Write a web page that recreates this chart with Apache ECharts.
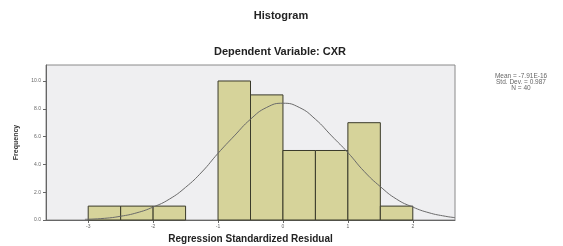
<!DOCTYPE html>
<html>
<head>
<meta charset="utf-8">
<script src="https://cdn.jsdelivr.net/npm/echarts@6/dist/echarts.min.js"></script>
<style>
  html, body { margin: 0; padding: 0; background: #fff; }
  #chart { width: 563px; height: 246px; }
</style>
</head>
<body>
<div id="chart"></div>
<script>
// bins of width 0.5, left edges
var binStarts = [-3, -2.5, -2, -1.5, -1, -0.5, 0, 0.5, 1, 1.5]
var binCounts = [1, 1, 1, 0, 10, 9, 5, 5, 7, 1]
var binWidth = 0.5

// normal curve
var curveX = [-3.05, -2.75, -2.5, -2.25, -2, -1.75, -1.5, -1.25, -1, -0.75, -0.5, -0.25, 0, 0.25, 0.5, 0.75, 1, 1.25, 1.5, 1.75, 2, 2.25, 2.5, 2.65]
var curveY = [0.05, 0.12, 0.27, 0.52, 0.93, 1.5, 2.35, 3.45, 4.8, 6.05, 7.25, 8.1, 8.4, 8.1, 7.25, 6.05, 4.85, 3.5, 2.4, 1.5, 0.93, 0.52, 0.27, 0.17]

var xTicks = [-3, -2, -1, 0, 1, 2]
var yTicks = [0, 2, 4, 6, 8, 10]

var statsLines = ['Mean = -7.91E-16', 'Std. Dev. = 0.987', 'N = 40']

var chart = echarts.init(document.getElementById('chart'))

var histData = binStarts.map(function (s, i) { return [s, s + binWidth, binCounts[i]] })
var curveData = curveX.map(function (x, i) { return [x, curveY[i]] })

var option = {
  animation: false,
  title: [
    {
      text: 'Histogram',
      left: 276, top: 5, textAlign: 'center',
      textStyle: { fontFamily: 'Liberation Sans', fontSize: 11, fontWeight: 'bold', color: '#222' }
    },
    {
      text: 'Dependent Variable: CXR',
      left: 275, top: 41, textAlign: 'center',
      textStyle: { fontFamily: 'Liberation Sans', fontSize: 11, fontWeight: 'bold', color: '#222' }
    }
  ],
  grid: {
    left: 46, top: 65, right: 108, bottom: 26,
    outerBoundsMode: 'none',
    show: true,
    backgroundColor: '#efeff1',
    borderColor: '#8a8a8a',
    borderWidth: 1
  },
  xAxis: {
    type: 'value',
    min: -3.65,
    max: 2.65,
    name: 'Regression Standardized Residual',
    nameLocation: 'middle',
    nameGap: 14,
    nameTextStyle: { fontFamily: 'Liberation Sans', fontSize: 10, fontWeight: 'bold', color: '#222' },
    splitLine: { show: false },
    axisLine: { onZero: false, lineStyle: { color: '#666' } },
    axisTick: { customValues: xTicks, length: 3, lineStyle: { color: '#666' } },
    axisLabel: {
      customValues: xTicks,
      fontSize: 5, color: '#666', margin: 4,
      formatter: function (v) { return v.toFixed(0) }
    }
  },
  yAxis: {
    type: 'value',
    min: 0,
    max: 11.15,
    name: 'Frequency',
    nameLocation: 'middle',
    nameGap: 26,
    nameTextStyle: { fontFamily: 'Liberation Sans', fontSize: 7, fontWeight: 'bold', color: '#333' },
    splitLine: { show: false },
    axisLine: { show: true, onZero: false, lineStyle: { color: '#666' } },
    axisTick: { customValues: yTicks, length: 3, lineStyle: { color: '#666' } },
    axisLabel: {
      customValues: yTicks,
      fontSize: 5, color: '#666', margin: 5,
      formatter: function (v) { return v.toFixed(1) }
    }
  },
  series: [
    {
      type: 'custom',
      data: histData,
      z: 2,
      renderItem: function (params, api) {
        var p0 = api.coord([api.value(0), api.value(2)])
        var p1 = api.coord([api.value(1), 0])
        if (api.value(2) <= 0) return null
        return {
          type: 'rect',
          shape: { x: p0[0], y: p0[1], width: p1[0] - p0[0], height: p1[1] - p0[1] },
          style: { fill: '#d6d39a', stroke: '#3a3a2a', lineWidth: 1 }
        }
      }
    },
    {
      type: 'line',
      data: curveData,
      smooth: true,
      showSymbol: false,
      z: 3,
      lineStyle: { color: '#6a6a6a', width: 1 }
    }
  ],
  graphic: [
    {
      type: 'text',
      x: 521, y: 73,
      style: {
        text: statsLines.join('\n'),
        fontFamily: 'Liberation Sans',
        fontSize: 6.5,
        lineHeight: 6,
        fill: '#666',
        align: 'center'
      }
    }
  ]
}

chart.setOption(option)
</script>
</body>
</html>
